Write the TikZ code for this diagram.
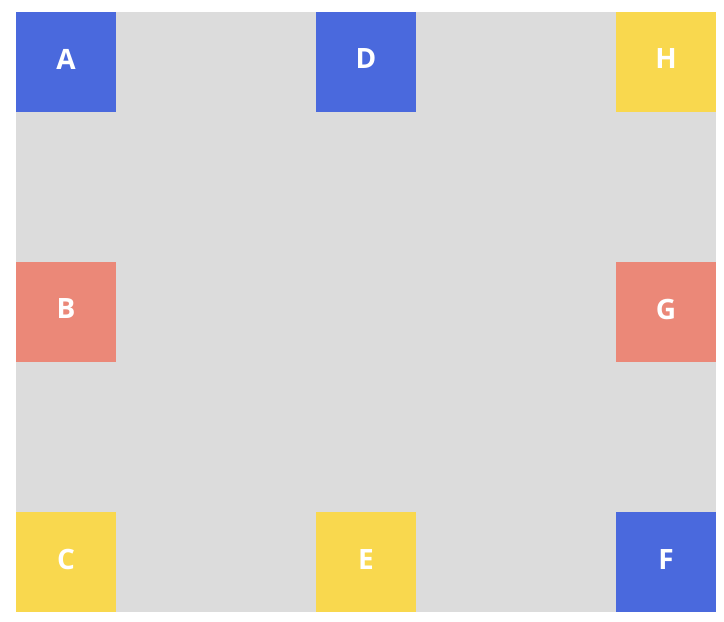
\documentclass[tikz,border=0pt]{standalone}
\usepackage{fontspec}
\setmainfont{Open Sans}
\definecolor{bgrey}{HTML}{DCDCDC}
\definecolor{cblue}{HTML}{4A69DD}
\definecolor{csalmon}{HTML}{EB8878}
\definecolor{cyellow}{HTML}{F9D84E}
\begin{document}
\begin{tikzpicture}[x=1pt,y=-1pt,
  cell/.style={minimum width=100pt,minimum height=100pt,inner sep=0pt,outer sep=0pt,anchor=north west},
  celltext/.style={text=white,font=\fontsize{28}{32}\selectfont\bfseries,inner sep=0pt,yshift=3pt}]
\useasboundingbox (0,0) rectangle (724,622);
\fill[white] (0,0) rectangle (724,622);
\fill[bgrey] (16,12) rectangle (716,612);
\node[cell,fill=cblue] (A) at (16,12) {};
\node[cell,fill=csalmon] (B) at (16,262) {};
\node[cell,fill=cyellow] (C) at (16,512) {};
\node[cell,fill=cblue] (D) at (316,12) {};
\node[cell,fill=cyellow] (E) at (316,512) {};
\node[cell,fill=cblue] (F) at (616,512) {};
\node[cell,fill=csalmon] (G) at (616,262) {};
\node[cell,fill=cyellow] (H) at (616,12) {};
\foreach \n in {A,B,C,D,E,F,G,H}{
  \node[celltext] (t\n) at (\n.center) {\n};
}
\end{tikzpicture}
\end{document}
